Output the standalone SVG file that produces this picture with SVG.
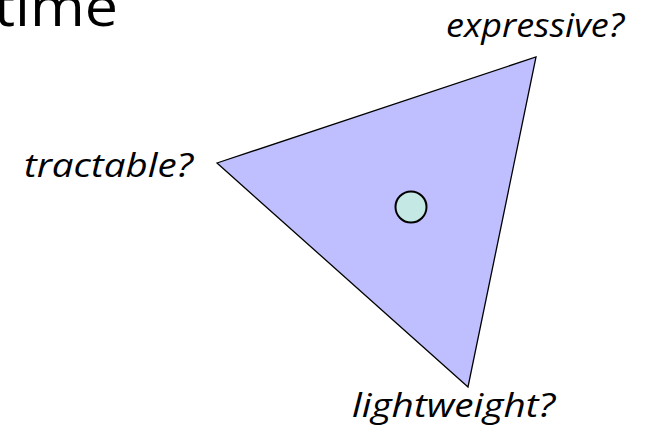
<svg xmlns="http://www.w3.org/2000/svg" width="646" height="431" viewBox="0 0 646 431">
<style>
.lbl{font-family:"Open Sans","Liberation Sans",sans-serif;font-style:italic;font-size:33px;fill:#000}
.title{font-family:"Open Sans","Liberation Sans",sans-serif;font-size:54px;fill:#000}
</style>
<rect width="646" height="431" fill="#fff"/>
<text class="title" x="-6" y="26" textLength="124" lengthAdjust="spacingAndGlyphs">time</text>
<g id="triangle">
<polygon points="217,163 536,57 468,387" fill="#bfbfff" stroke="#000" stroke-width="1.3" stroke-linejoin="miter"/>
</g>
<g id="point">
<circle cx="411" cy="207" r="15.5" fill="#c4e8e4" stroke="#000" stroke-width="2"/>
</g>
<g id="labels">
<text class="lbl" x="446" y="37" textLength="178" lengthAdjust="spacingAndGlyphs">expressive?</text>
<text class="lbl" x="24" y="177" textLength="169" lengthAdjust="spacingAndGlyphs">tractable?</text>
<text class="lbl" x="352" y="417" textLength="203" lengthAdjust="spacingAndGlyphs">lightweight?</text>
</g>
</svg>
